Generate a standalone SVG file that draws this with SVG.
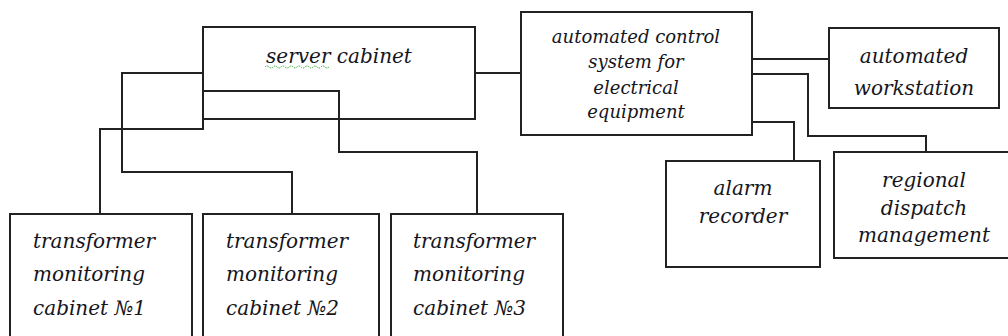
<svg xmlns="http://www.w3.org/2000/svg" width="1008" height="336" viewBox="0 0 1008 336">
<style>
.box{fill:#fff;stroke:#222;stroke-width:2}
.ln{fill:none;stroke:#222;stroke-width:2}
text{font-family:"DejaVu Serif","Liberation Serif",serif;font-style:italic;fill:#151520}
.t20{font-size:20px}
.t18{font-size:18px}
.c{text-anchor:middle}
</style>
<rect width="1008" height="336" fill="#fff"/>
<g id="connectors">
<path class="ln" d="M203,119 V129 H100 V214"/>
<path class="ln" d="M203,73 H122 V172 H292 V214"/>
<path class="ln" d="M203,91 H339 V152 H477 V214"/>
<path class="ln" d="M475,73 H521"/>
<path class="ln" d="M752,59 H829"/>
<path class="ln" d="M752,74 H808 V136 H926 V152"/>
<path class="ln" d="M752,122 H794 V161"/>
</g>
<g id="server-cabinet">
<rect class="box" x="203" y="27" width="272" height="92" fill-opacity="0"/>
<text class="t20 c" x="339" y="63">server cabinet</text>
<path d="M265,67 q2,-2 4,0 t4,0 t4,0 t4,0 t4,0 t4,0 t4,0 t4,0 t4,0 t4,0 t4,0 t4,0 t4,0 t4,0 t4,0 t4,0" fill="none" stroke="#3a3" stroke-width="1" stroke-dasharray="1.5,1"/>
</g>
<g id="acs">
<rect class="box" x="521" y="12" width="231" height="123"/>
<text class="t18 c" x="636" y="43">automated control</text>
<text class="t18 c" x="636" y="68">system for</text>
<text class="t18 c" x="636" y="94">electrical</text>
<text class="t18 c" x="636" y="118">equipment</text>
</g>
<g id="workstation">
<rect class="box" x="829" y="28" width="170" height="80"/>
<text class="t20 c" x="914" y="63">automated</text>
<text class="t20 c" x="914" y="95">workstation</text>
</g>
<g id="alarm-recorder">
<rect class="box" x="666" y="161" width="154" height="106"/>
<text class="t20 c" x="743" y="195">alarm</text>
<text class="t20 c" x="743" y="223">recorder</text>
</g>
<g id="regional-dispatch">
<rect class="box" x="834" y="152" width="180" height="106"/>
<text class="t20 c" x="924" y="187">regional</text>
<text class="t20 c" x="924" y="215">dispatch</text>
<text class="t20 c" x="924" y="242">management</text>
</g>
<g id="tmc1">
<rect class="box" x="10" y="214" width="182" height="130"/>
<text class="t20" x="33" y="248">transformer</text>
<text class="t20" x="33" y="281">monitoring</text>
<text class="t20" x="33" y="315">cabinet №1</text>
</g>
<g id="tmc2">
<rect class="box" x="203" y="214" width="176" height="130"/>
<text class="t20" x="226" y="248">transformer</text>
<text class="t20" x="226" y="281">monitoring</text>
<text class="t20" x="226" y="315">cabinet №2</text>
</g>
<g id="tmc3">
<rect class="box" x="391" y="214" width="172" height="130"/>
<text class="t20" x="413" y="248">transformer</text>
<text class="t20" x="413" y="281">monitoring</text>
<text class="t20" x="413" y="315">cabinet №3</text>
</g>
</svg>
